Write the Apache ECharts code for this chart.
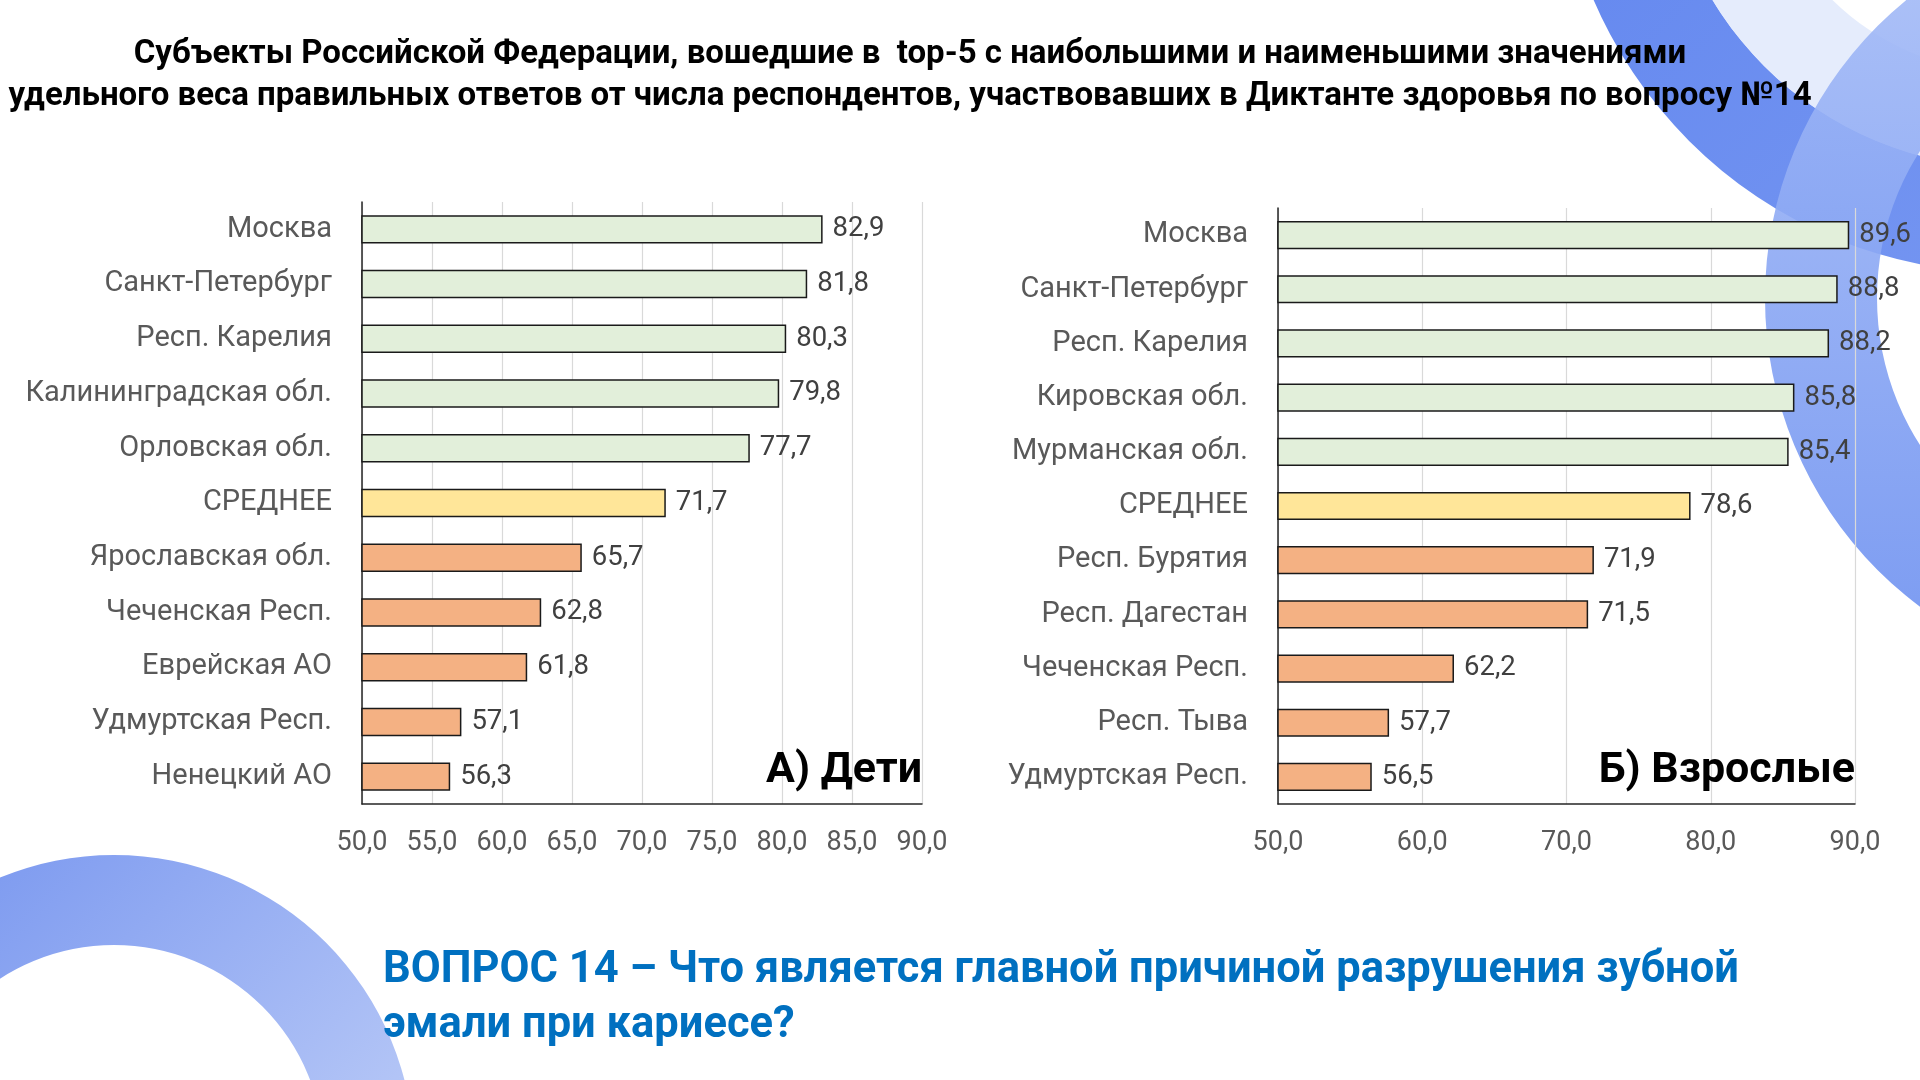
<!DOCTYPE html>
<html>
<head>
<meta charset="utf-8">
<script src="https://cdn.jsdelivr.net/npm/echarts@6/dist/echarts.min.js"></script>
<style>
  html, body { margin: 0; padding: 0; background: #ffffff; }
  #chart { width: 1920px; height: 1080px; }
</style>
</head>
<body>
<div id="chart"></div>
<script>
// дети
var kidsRegions = ['Москва', 'Санкт-Петербург', 'Респ. Карелия', 'Калининградская обл.', 'Орловская обл.',
  'СРЕДНЕЕ', 'Ярославская обл.', 'Чеченская Респ.', 'Еврейская АО', 'Удмуртская Респ.', 'Ненецкий АО'];
var kidsValues = [82.9, 81.8, 80.3, 79.8, 77.7, 71.7, 65.7, 62.8, 61.8, 57.1, 56.3];
var kidsTicks = [50, 55, 60, 65, 70, 75, 80, 85, 90];

// взрослые
var adultRegions = ['Москва', 'Санкт-Петербург', 'Респ. Карелия', 'Кировская обл.', 'Мурманская обл.',
  'СРЕДНЕЕ', 'Респ. Бурятия', 'Респ. Дагестан', 'Чеченская Респ.', 'Респ. Тыва', 'Удмуртская Респ.'];
var adultValues = [89.6, 88.8, 88.2, 85.8, 85.4, 78.6, 71.9, 71.5, 62.2, 57.7, 56.5];
var adultTicks = [50, 60, 70, 80, 90];

// группа каждой строки: лучшие, среднее, худшие
var rowGroups = ['top', 'top', 'top', 'top', 'top', 'avg', 'low', 'low', 'low', 'low', 'low'];
var groupColors = { top: '#E2EFDA', avg: '#FFE699', low: '#F4B183' };

var FONT = 'Roboto';
var fmt = function (v) { return Number(v).toFixed(1).replace('.', ','); };

function barData(values) {
  return values.map(function (v, i) {
    return { value: v, itemStyle: { color: groupColors[rowGroups[i]] } };
  });
}

function xAxisFor(idx, ticks) {
  return {
    type: 'value', gridIndex: idx,
    min: ticks[0], max: ticks[ticks.length - 1], interval: ticks[1] - ticks[0],
    axisLine: { show: true, lineStyle: { color: '#262626', width: 1.5 } },
    axisTick: { show: false },
    splitLine: { show: true, lineStyle: { color: '#d9d9d9', width: 1.2 } },
    axisLabel: { formatter: fmt, color: '#595959', fontSize: 27, fontFamily: FONT, margin: 26 }
  };
}

function yAxisFor(idx, cats) {
  return {
    type: 'category', gridIndex: idx, data: cats, inverse: true,
    axisLine: { show: true, lineStyle: { color: '#262626', width: 1.5 } },
    axisTick: { show: false },
    axisLabel: { color: '#595959', fontSize: 29, fontFamily: FONT, margin: 30 }
  };
}

function barSeries(idx, values) {
  return {
    type: 'bar', xAxisIndex: idx, yAxisIndex: idx,
    data: barData(values),
    barCategoryGap: '48%',
    itemStyle: { borderColor: '#1a1a1a', borderWidth: 1.5 },
    label: {
      show: true, position: 'right', distance: 10,
      formatter: function (p) { return fmt(p.value); },
      color: '#404040', fontSize: 27.5, fontFamily: FONT
    },
    silent: true
  };
}

var myChart = echarts.init(document.getElementById('chart'), null, { renderer: 'canvas' });

var option = {
  backgroundColor: '#ffffff',
  animation: false,
  graphic: [
    // декоративные кольца фона
    { type: 'ring', z: -10, shape: { cx: 2008, cy: -178, r: 451, r0: 345 },
      style: { fill: new echarts.graphic.LinearGradient(0, 0, 1, 1, [
        { offset: 0, color: '#5a80ee' }, { offset: 1, color: '#7d9cf2' }]) } },
    { type: 'ring', z: -9, shape: { cx: 2008, cy: -178, r: 345, r0: 250 },
      style: { fill: '#dfe7fb', opacity: 0.8 } },
    { type: 'ring', z: -8, shape: { cx: 2150, cy: 298, r: 385, r0: 273 },
      style: { fill: new echarts.graphic.LinearGradient(0, 0, 0, 1, [
        { offset: 0, color: '#a8bef7' }, { offset: 1, color: '#6a8ef0' }]), opacity: 0.9 } },
    { type: 'ring', z: -8, shape: { cx: 114, cy: 1155, r: 300, r0: 210 },
      style: { fill: new echarts.graphic.LinearGradient(0, 0, 1, 1, [
        { offset: 0, color: '#6f8fee' }, { offset: 1, color: '#d3defa' }]) } },
    // заголовок
    { type: 'text', x: 910, y: 55, z: 10,
      style: { text: 'Субъекты Российской Федерации, вошедшие в  top-5 с наибольшими и наименьшими значениями',
        fill: '#000000', font: 'bold 33px ' + FONT, align: 'center', verticalAlign: 'middle' } },
    { type: 'text', x: 910, y: 97, z: 10,
      style: { text: 'удельного веса правильных ответов от числа респондентов, участвовавших в Диктанте здоровья по вопросу №14',
        fill: '#000000', font: 'bold 33px ' + FONT, align: 'center', verticalAlign: 'middle' } },
    // подписи панелей
    { type: 'text', right: 998, top: 750, z: 10,
      style: { text: 'А) Дети', fill: '#000000', font: 'bold 43px ' + FONT } },
    { type: 'text', right: 65, top: 750, z: 10,
      style: { text: 'Б) Взрослые', fill: '#000000', font: 'bold 43px ' + FONT } },
    // вопрос
    { type: 'text', left: 383, top: 949, z: 10,
      style: { text: 'ВОПРОС 14 – Что является главной причиной разрушения зубной',
        fill: '#0070C0', font: 'bold 43.5px ' + FONT } },
    { type: 'text', left: 383, top: 1004, z: 10,
      style: { text: 'эмали при кариесе?', fill: '#0070C0', font: 'bold 43.5px ' + FONT } }
  ],
  grid: [
    { left: 362, right: 998, top: 202, bottom: 276 },
    { left: 1278, right: 65, top: 208, bottom: 276 }
  ],
  xAxis: [xAxisFor(0, kidsTicks), xAxisFor(1, adultTicks)],
  yAxis: [yAxisFor(0, kidsRegions), yAxisFor(1, adultRegions)],
  series: [barSeries(0, kidsValues), barSeries(1, adultValues)]
};

myChart.setOption(option);
</script>
</body>
</html>
